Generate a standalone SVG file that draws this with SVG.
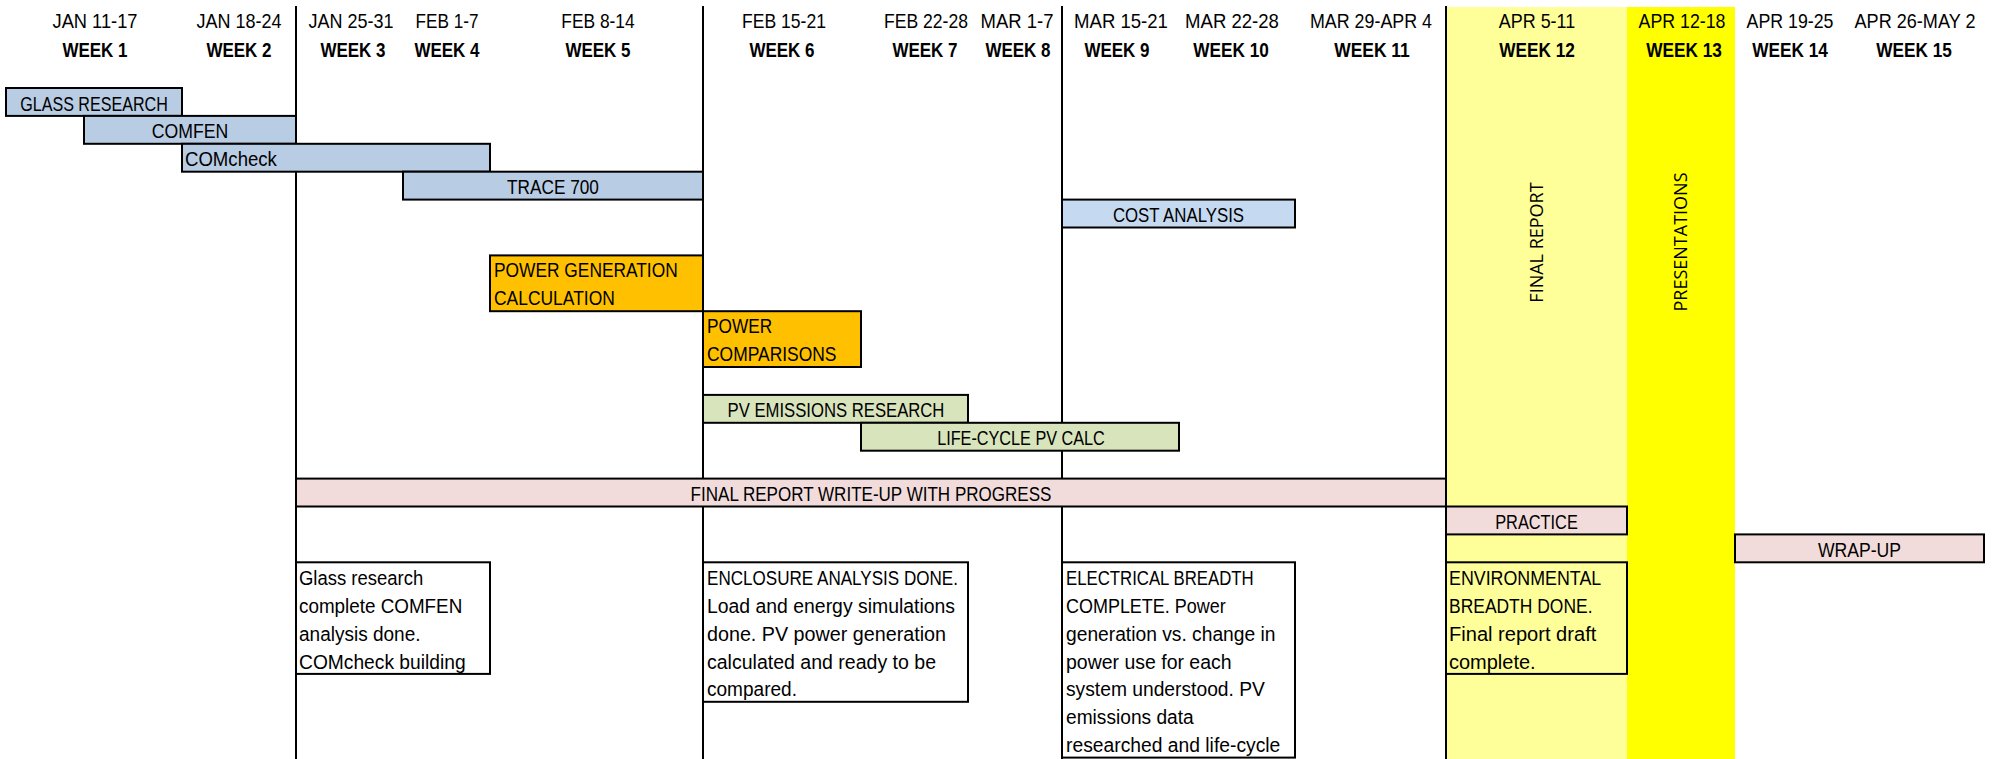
<svg xmlns="http://www.w3.org/2000/svg" width="2000" height="759" viewBox="0 0 2000 759">
<style>
.hd{font-family:"Liberation Sans",Arial,sans-serif;font-size:21px;fill:#000;text-anchor:middle}
.wk{font-weight:bold}
.t{font-family:"Liberation Sans",Arial,sans-serif;font-size:19.5px;fill:#000}
.c{text-anchor:middle}
.v{font-family:"Open Sans","DejaVu Sans",sans-serif;font-size:18px;fill:#000;text-anchor:middle}
.bar{stroke:#000;stroke-width:2}
.blue{fill:#B8CCE4}
.lblue{fill:#C5D9F1}
.org{fill:#FFC000}
.grn{fill:#D8E4BC}
.pnk{fill:#F2DCDB}
.note{fill:#fff}
.ly{fill:#FFFF99}
.grid{stroke:#000;stroke-width:2}
</style>
<rect x="0" y="0" width="2000" height="759" fill="#fff"/>
<g id="bands">
<rect x="1446" y="7" width="181" height="752" fill="#FFFF99"/>
<rect x="1627" y="7" width="108" height="752" fill="#FFFF00"/>
</g>
<g id="header">
<text class="hd" x="95" y="28.3" textLength="85" lengthAdjust="spacingAndGlyphs">JAN 11-17</text>
<text class="hd" x="239" y="28.3" textLength="85" lengthAdjust="spacingAndGlyphs">JAN 18-24</text>
<text class="hd" x="351" y="28.3" textLength="85" lengthAdjust="spacingAndGlyphs">JAN 25-31</text>
<text class="hd" x="447" y="28.3" textLength="62.9" lengthAdjust="spacingAndGlyphs">FEB 1-7</text>
<text class="hd" x="598" y="28.3" textLength="73.4" lengthAdjust="spacingAndGlyphs">FEB 8-14</text>
<text class="hd" x="784" y="28.3" textLength="83.9" lengthAdjust="spacingAndGlyphs">FEB 15-21</text>
<text class="hd" x="926" y="28.3" textLength="83.9" lengthAdjust="spacingAndGlyphs">FEB 22-28</text>
<text class="hd" x="1017" y="28.3" textLength="72.9" lengthAdjust="spacingAndGlyphs">MAR 1-7</text>
<text class="hd" x="1121" y="28.3" textLength="93.9" lengthAdjust="spacingAndGlyphs">MAR 15-21</text>
<text class="hd" x="1232" y="28.3" textLength="93.9" lengthAdjust="spacingAndGlyphs">MAR 22-28</text>
<text class="hd" x="1371" y="28.3" textLength="122" lengthAdjust="spacingAndGlyphs">MAR 29-APR 4</text>
<text class="hd" x="1537" y="28.3" textLength="76.4" lengthAdjust="spacingAndGlyphs">APR 5-11</text>
<text class="hd" x="1682" y="28.3" textLength="86.9" lengthAdjust="spacingAndGlyphs">APR 12-18</text>
<text class="hd" x="1790" y="28.3" textLength="86.9" lengthAdjust="spacingAndGlyphs">APR 19-25</text>
<text class="hd" x="1915" y="28.3" textLength="120.9" lengthAdjust="spacingAndGlyphs">APR 26-MAY 2</text>
<text class="hd wk" x="95" y="56.7" textLength="65.1" lengthAdjust="spacingAndGlyphs">WEEK 1</text>
<text class="hd wk" x="239" y="56.7" textLength="65.1" lengthAdjust="spacingAndGlyphs">WEEK 2</text>
<text class="hd wk" x="353" y="56.7" textLength="65.1" lengthAdjust="spacingAndGlyphs">WEEK 3</text>
<text class="hd wk" x="447" y="56.7" textLength="65.1" lengthAdjust="spacingAndGlyphs">WEEK 4</text>
<text class="hd wk" x="598" y="56.7" textLength="65.1" lengthAdjust="spacingAndGlyphs">WEEK 5</text>
<text class="hd wk" x="782" y="56.7" textLength="65.1" lengthAdjust="spacingAndGlyphs">WEEK 6</text>
<text class="hd wk" x="925" y="56.7" textLength="65.1" lengthAdjust="spacingAndGlyphs">WEEK 7</text>
<text class="hd wk" x="1018" y="56.7" textLength="65.1" lengthAdjust="spacingAndGlyphs">WEEK 8</text>
<text class="hd wk" x="1117" y="56.7" textLength="65.1" lengthAdjust="spacingAndGlyphs">WEEK 9</text>
<text class="hd wk" x="1231" y="56.7" textLength="75.6" lengthAdjust="spacingAndGlyphs">WEEK 10</text>
<text class="hd wk" x="1372" y="56.7" textLength="75.6" lengthAdjust="spacingAndGlyphs">WEEK 11</text>
<text class="hd wk" x="1537" y="56.7" textLength="75.6" lengthAdjust="spacingAndGlyphs">WEEK 12</text>
<text class="hd wk" x="1684" y="56.7" textLength="75.6" lengthAdjust="spacingAndGlyphs">WEEK 13</text>
<text class="hd wk" x="1790" y="56.7" textLength="75.6" lengthAdjust="spacingAndGlyphs">WEEK 14</text>
<text class="hd wk" x="1914" y="56.7" textLength="75.6" lengthAdjust="spacingAndGlyphs">WEEK 15</text>
</g>
<g id="connectors">
<line class="grid" x1="296" y1="6" x2="296" y2="759"/>
<line class="grid" x1="703" y1="6" x2="703" y2="759"/>
<line class="grid" x1="1062" y1="6" x2="1062" y2="759"/>
<line class="grid" x1="1446" y1="6" x2="1446" y2="759"/>
</g>
<g id="vert-labels">
<text class="v" transform="translate(1542.5,242.5) rotate(-90)">FINAL REPORT</text>
<text class="v" transform="translate(1687,242) rotate(-90)">PRESENTATIONS</text>
</g>
<g id="glass-research"><rect class="bar blue" x="6" y="88" width="176" height="27.9"/><text class="t c" x="94" y="110.5" textLength="147.6" lengthAdjust="spacingAndGlyphs">GLASS RESEARCH</text></g>
<g id="comfen"><rect class="bar blue" x="84" y="115.9" width="212" height="27.9"/><text class="t c" x="190" y="138.4" textLength="76.5" lengthAdjust="spacingAndGlyphs">COMFEN</text></g>
<g id="comcheck"><rect class="bar blue" x="182" y="143.8" width="308" height="27.9"/><text class="t" x="185" y="166.3" textLength="91.9" lengthAdjust="spacingAndGlyphs">COMcheck</text></g>
<g id="trace700"><rect class="bar blue" x="403" y="171.7" width="300" height="27.9"/><text class="t c" x="553" y="194.2" textLength="91.9" lengthAdjust="spacingAndGlyphs">TRACE 700</text></g>
<g id="cost-analysis"><rect class="bar lblue" x="1062" y="199.6" width="233" height="27.9"/><text class="t c" x="1178.5" y="222.1" textLength="131.2" lengthAdjust="spacingAndGlyphs">COST ANALYSIS</text></g>
<g id="power-generation"><rect class="bar org" x="490" y="255.4" width="213" height="55.8"/><text class="t" x="494" y="277.4" textLength="183.7" lengthAdjust="spacingAndGlyphs">POWER GENERATION</text><text class="t" x="494" y="305.3" textLength="120.8" lengthAdjust="spacingAndGlyphs">CALCULATION</text></g>
<g id="power-comparisons"><rect class="bar org" x="703" y="311.2" width="158" height="55.8"/><text class="t" x="707" y="333.2" textLength="65.1" lengthAdjust="spacingAndGlyphs">POWER</text><text class="t" x="707" y="361.1" textLength="129.5" lengthAdjust="spacingAndGlyphs">COMPARISONS</text></g>
<g id="pv-emissions"><rect class="bar grn" x="703" y="394.9" width="265" height="27.9"/><text class="t c" x="836" y="417.4" textLength="216.8" lengthAdjust="spacingAndGlyphs">PV EMISSIONS RESEARCH</text></g>
<g id="life-cycle"><rect class="bar grn" x="861" y="422.8" width="318" height="27.9"/><text class="t c" x="1021" y="445.3" textLength="167.7" lengthAdjust="spacingAndGlyphs">LIFE-CYCLE PV CALC</text></g>
<g id="final-write-up"><rect class="bar pnk" x="296" y="478.6" width="1150" height="27.9"/><text class="t c" x="871" y="501.1" textLength="360.8" lengthAdjust="spacingAndGlyphs">FINAL REPORT WRITE-UP WITH PROGRESS</text></g>
<g id="practice"><rect class="bar pnk" x="1446" y="506.5" width="181" height="27.9"/><text class="t c" x="1536.5" y="529" textLength="82.6" lengthAdjust="spacingAndGlyphs">PRACTICE</text></g>
<g id="wrap-up"><rect class="bar pnk" x="1735" y="534.4" width="249" height="27.9"/><text class="t c" x="1859.5" y="556.9" textLength="83" lengthAdjust="spacingAndGlyphs">WRAP-UP</text></g>
<g id="note-glass"><rect class="bar note" x="296" y="562.3" width="194" height="111.6"/>
<text class="t" x="299" y="584.8" textLength="124.2" lengthAdjust="spacingAndGlyphs">Glass research</text>
<text class="t" x="299" y="612.7" textLength="163.3" lengthAdjust="spacingAndGlyphs">complete COMFEN</text>
<text class="t" x="299" y="640.6" textLength="121.5" lengthAdjust="spacingAndGlyphs">analysis done.</text>
<text class="t" x="299" y="668.5" textLength="166.6" lengthAdjust="spacingAndGlyphs">COMcheck building</text></g>
<g id="note-enclosure"><rect class="bar note" x="703" y="562.3" width="265" height="139.5"/>
<text class="t" x="707" y="584.8" textLength="251" lengthAdjust="spacingAndGlyphs">ENCLOSURE ANALYSIS DONE.</text>
<text class="t" x="707" y="612.7" textLength="248" lengthAdjust="spacingAndGlyphs">Load and energy simulations</text>
<text class="t" x="707" y="640.6" textLength="239" lengthAdjust="spacingAndGlyphs">done. PV power generation</text>
<text class="t" x="707" y="668.5" textLength="229" lengthAdjust="spacingAndGlyphs">calculated and ready to be</text>
<text class="t" x="707" y="696.4" textLength="90" lengthAdjust="spacingAndGlyphs">compared.</text></g>
<g id="note-electrical"><rect class="bar note" x="1062" y="562.3" width="233" height="195.3"/>
<text class="t" x="1066" y="584.8" textLength="187.6" lengthAdjust="spacingAndGlyphs">ELECTRICAL BREADTH</text>
<text class="t" x="1066" y="612.7" textLength="159.7" lengthAdjust="spacingAndGlyphs">COMPLETE. Power</text>
<text class="t" x="1066" y="640.6" textLength="209.5" lengthAdjust="spacingAndGlyphs">generation vs. change in</text>
<text class="t" x="1066" y="668.5" textLength="165.6" lengthAdjust="spacingAndGlyphs">power use for each</text>
<text class="t" x="1066" y="696.4" textLength="198.9" lengthAdjust="spacingAndGlyphs">system understood. PV</text>
<text class="t" x="1066" y="724.3" textLength="127.7" lengthAdjust="spacingAndGlyphs">emissions data</text>
<text class="t" x="1066" y="752.2" textLength="214.3" lengthAdjust="spacingAndGlyphs">researched and life-cycle</text></g>
<g id="note-environmental"><rect class="bar ly" x="1446" y="562.3" width="181" height="111.6"/>
<text class="t" x="1449" y="584.8" textLength="152.2" lengthAdjust="spacingAndGlyphs">ENVIRONMENTAL</text>
<text class="t" x="1449" y="612.7" textLength="143.5" lengthAdjust="spacingAndGlyphs">BREADTH DONE.</text>
<text class="t" x="1449" y="640.6" textLength="147.3" lengthAdjust="spacingAndGlyphs">Final report draft</text>
<text class="t" x="1449" y="668.5" textLength="86.6" lengthAdjust="spacingAndGlyphs">complete.</text></g>
</svg>
